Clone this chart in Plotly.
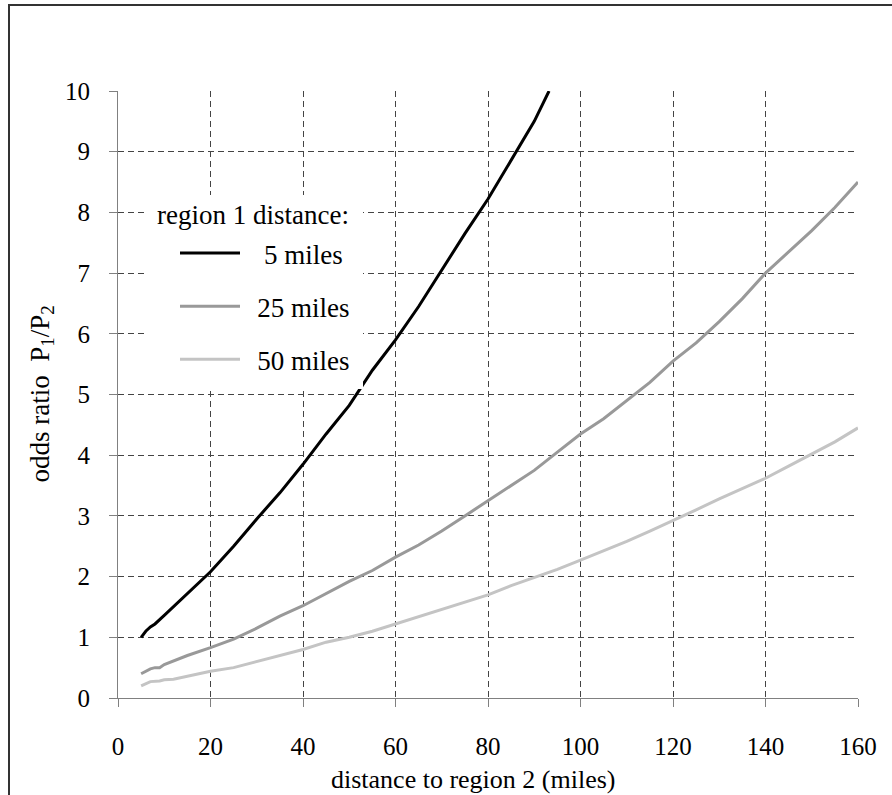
import plotly.graph_objects as go

# ---- data ----
x_5 = [5, 6, 7, 8, 10, 15, 20, 25, 30, 35, 40, 45, 50, 55, 60, 65, 70, 75, 80, 85, 90, 93.2]
y_5 = [1.0, 1.1, 1.17, 1.22, 1.36, 1.72, 2.08, 2.5, 2.95, 3.38, 3.85, 4.35, 4.82, 5.4, 5.9, 6.45, 7.05, 7.65, 8.22, 8.85, 9.5, 10.0]

x_25 = [5, 6, 7, 8, 9, 10, 15, 20, 25, 30, 35, 40, 45, 50, 55, 60, 65, 70, 75, 80, 85, 90, 95,
        100, 105, 110, 115, 120, 125, 130, 135, 140, 145, 150, 155, 160]
y_25 = [0.4, 0.44, 0.48, 0.5, 0.5, 0.55, 0.7, 0.83, 0.97, 1.15, 1.35, 1.52, 1.72, 1.92, 2.1, 2.32,
        2.52, 2.75, 3.0, 3.25, 3.5, 3.75, 4.05, 4.35, 4.6, 4.9, 5.2, 5.55, 5.85, 6.2, 6.58, 7.0,
        7.35, 7.7, 8.08, 8.5]

x_50 = [5, 6, 7, 9, 10, 12, 15, 20, 25, 30, 35, 40, 45, 50, 55, 60, 65, 70, 75, 80, 85, 90, 95,
        100, 105, 110, 115, 120, 125, 130, 135, 140, 145, 150, 155, 160]
y_50 = [0.2, 0.23, 0.27, 0.28, 0.3, 0.31, 0.36, 0.44, 0.5, 0.6, 0.7, 0.8, 0.92, 1.0, 1.1, 1.22,
        1.33, 1.45, 1.57, 1.7, 1.85, 1.98, 2.12, 2.27, 2.42, 2.58, 2.75, 2.92, 3.1, 3.28, 3.45,
        3.62, 3.82, 4.02, 4.22, 4.45]

series_names = ["\u00a0\u00a0\u20095 miles", "\u00a0\u200925 miles", "\u00a0\u200950 miles"]
series_colors = ["#000000", "#999999", "#c4c4c4"]

x_ticks = [0, 20, 40, 60, 80, 100, 120, 140, 160]
y_ticks = list(range(0, 11))

FONT = "Liberation Serif, Times New Roman, Times, serif"

fig = go.Figure()
for i, (xs, ys) in enumerate([(x_5, y_5), (x_25, y_25), (x_50, y_50)]):
    fig.add_trace(go.Scatter(
        x=xs, y=ys, mode="lines", name=series_names[i],
        legendgroup=f"g{i}",
        line=dict(color=series_colors[i], width=3),
    ))

W, H = 892, 795
L, R, T, B = 118, 34, 91, 97
pw, ph = W - L - R, H - T - B


def px(xp):
    return (xp - L) / pw


def py(yp):
    return (H - B - yp) / ph


axis_common = dict(
    showline=True, linecolor="#808080", linewidth=1,
    ticks="outside", ticklen=8, tickcolor="#808080", tickwidth=1,
    showgrid=True, gridcolor="#444444", gridwidth=1, griddash="6px,4px",
    zeroline=False, tickfont=dict(family=FONT, size=25, color="#000"),
)

fig.update_layout(
    width=W, height=H,
    margin=dict(l=L, r=R, t=T, b=B),
    paper_bgcolor="white", plot_bgcolor="white",
    font=dict(family=FONT, size=27, color="#000"),
    xaxis=dict(range=[0, 160], tickvals=x_ticks, ticklabelstandoff=18, **axis_common),
    yaxis=dict(range=[0, 10], tickvals=y_ticks, ticklabelstandoff=14, **axis_common),
    showlegend=True,
    legend=dict(
        x=px(175), y=py(229), xanchor="left", yanchor="top",
        bgcolor="rgba(0,0,0,0)", borderwidth=0,
        font=dict(family=FONT, size=27, color="#000"),
        tracegroupgap=15, itemwidth=60, traceorder="grouped",
    ),
    shapes=[
        # outer frame (left/top visible)
        dict(type="rect", xref="paper", yref="paper",
             x0=px(9), x1=1.3, y0=-0.4, y1=py(5),
             line=dict(color="#333333", width=2), fillcolor="rgba(0,0,0,0)", layer="below"),
        # legend background
        dict(type="rect", xref="paper", yref="paper",
             x0=px(148), x1=px(363), y0=py(389), y1=py(195),
             line=dict(width=0), fillcolor="white", layer="above"),
    ],
    annotations=[
        dict(text="region 1 distance:", xref="paper", yref="paper",
             x=px(155), y=py(215), xanchor="left", yanchor="middle", showarrow=False,
             font=dict(family=FONT, size=27, color="#000")),
        dict(text="odds ratio  P<sub>1</sub>/P<sub>2</sub>", xref="paper", yref="paper",
             x=px(41), y=0.5, xanchor="center", yanchor="middle", textangle=-90,
             showarrow=False, font=dict(family=FONT, size=27, color="#000")),
        dict(text="distance to region 2 (miles)", xref="paper", yref="paper",
             x=px(473), y=py(779), xanchor="center", yanchor="middle",
             showarrow=False, font=dict(family=FONT, size=26, color="#000")),
    ],
)

fig.write_html("out.html")
